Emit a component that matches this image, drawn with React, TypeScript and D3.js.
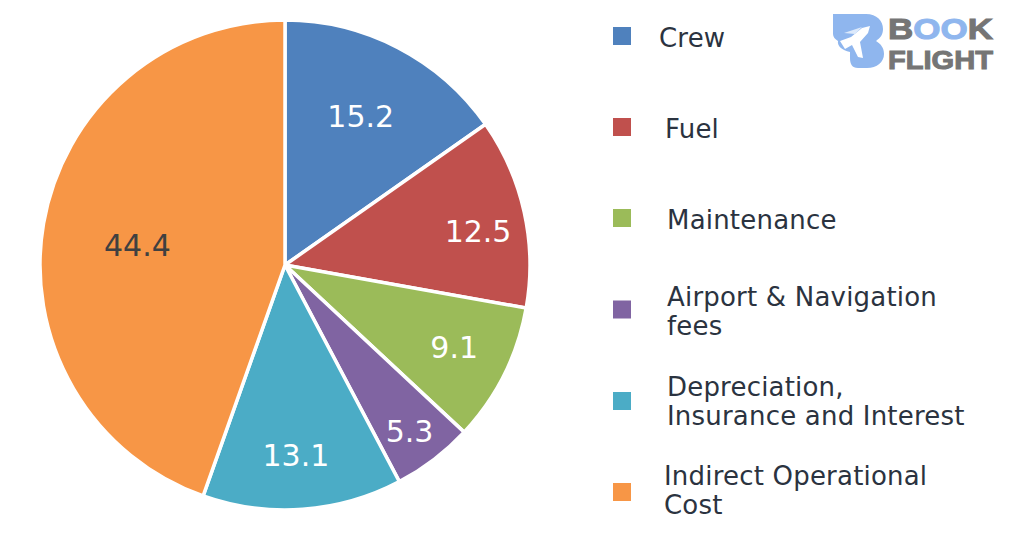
import React from 'react';
import * as d3 from 'd3';

const categories = ['Crew', 'Fuel', 'Maintenance', 'Airport & Navigation fees', 'Depreciation, Insurance and Interest', 'Indirect Operational Cost'];
const values = [15.2, 12.5, 9.1, 5.3, 13.1, 44.4];
const colors = ['#4f81bd', '#c0504d', '#9bbb59', '#8064a2', '#4bacc6', '#f79646'];
const legendLines = [['Crew'], ['Fuel'], ['Maintenance'], ['Airport & Navigation', 'fees'], ['Depreciation,', 'Insurance and Interest'], ['Indirect Operational', 'Cost']];

// layout
const cx = 285;
const cy = 265;
const radius = 245;
const labelRadii = [167, 196, 188, 208, 191, 149];
const labelShiftDeg = [-0.5, 2.5, -0.7, 0.6, 0.9, -2];
const labelColors = ['#fff', '#fff', '#fff', '#fff', '#fff', '#404040'];
const legendY = [36, 127, 218, 309.5, 401, 492];
const legendTextY = [37, 128, 219, 311, 400.5, 489.5];
const legendTextX = [659, 665, 667, 667, 667, 664];
const font = '"DejaVu Sans", Verdana, sans-serif';
const logoFont = '"Liberation Sans", Arial, sans-serif';

const pie = d3.pie<number>().value(d => d).sort(null);
const arc = d3.arc<d3.PieArcDatum<number>>().innerRadius(0).outerRadius(radius);

function Logo() {
  return (
    <g>
      <path
        d="M833 14 H866 C877 14 883 21 883 29 C883 35 880 38 876 41 C881 44 884 48 884 54 C884 62 877 68 867 68 H858 C852 68 850 64 850 58 V52 C842 50 837 46 838 41 C835 39 833 37 833 34 Z"
        fill="#8fb6ee"
      />
      <path d="M840 41 L851 37 L862 28 L870 26 L868 33 L860 42 L863 58 L858 57 L852 45 L845 49 Z" fill="#fff" />
      <path d="M844 33 L862 27 L855 34 Z" fill="#dce9fb" />
      <text x={888} y={38.5} fontFamily={logoFont} fontWeight={700} fontSize={30} textLength={105} lengthAdjust="spacingAndGlyphs" fill="#757575" stroke="#757575" strokeWidth={1}>
        B<tspan fill="#8fb6ee" stroke="#8fb6ee">OO</tspan>K
      </text>
      <text x={888} y={68.5} fontFamily={logoFont} fontWeight={700} fontSize={26} textLength={105} lengthAdjust="spacingAndGlyphs" fill="#757575" stroke="#757575" strokeWidth={1}>
        FLIGHT
      </text>
    </g>
  );
}

export default function App() {
  const slices = pie(values);
  return (
    <svg width={1024} height={536} style={{ position: 'absolute', left: 0, top: 0, background: '#fff' }}>
      <g transform={`translate(${cx},${cy})`}>
        {slices.map((d, i) => (
          <path key={categories[i]} d={arc(d) ?? ''} fill={colors[i]} stroke="#fff" strokeWidth={3.5} />
        ))}
        {slices.map((d, i) => {
          const mid = (d.startAngle + d.endAngle) / 2 + (labelShiftDeg[i] * Math.PI) / 180;
          return (
            <text
              key={categories[i]}
              x={Math.sin(mid) * labelRadii[i]}
              y={-Math.cos(mid) * labelRadii[i]}
              dy="0.36em"
              textAnchor="middle"
              fontFamily={font}
              fontSize={30}
              fill={labelColors[i]}
            >
              {values[i]}
            </text>
          );
        })}
      </g>
      {categories.map((c, i) => (
        <g key={c}>
          <rect x={613} y={legendY[i] - 9} width={18} height={18} fill={colors[i]} />
          {legendLines[i].map((line, j) => (
            <text
              key={line}
              x={legendTextX[i]}
              y={legendTextY[i] + 9.5 + (j - (legendLines[i].length - 1) / 2) * 29}
              fontFamily={font}
              fontSize={26}
              letterSpacing={0.2}
              fill="#2b3340"
            >
              {line}
            </text>
          ))}
        </g>
      ))}
      <Logo />
    </svg>
  );
}
